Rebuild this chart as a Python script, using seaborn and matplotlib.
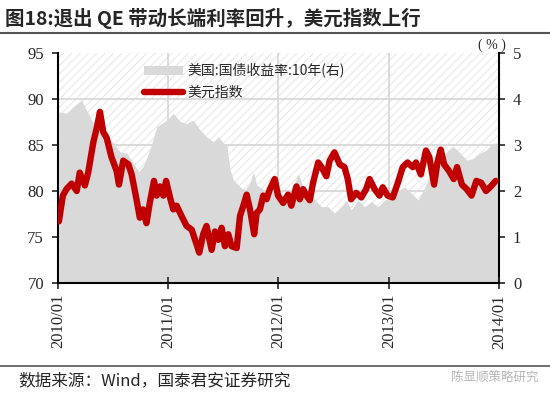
import pandas as pd
import numpy as np
import matplotlib
matplotlib.use('Agg')
import matplotlib.pyplot as plt
import matplotlib.dates as mdates
from matplotlib.patches import Patch, Rectangle
from matplotlib.lines import Line2D
import seaborn as sns

# 美元指数 (left axis)
dxy_dates = ['2010-01-04', '2010-01-17', '2010-01-29', '2010-02-15', '2010-03-04', '2010-03-14',
             '2010-03-31', '2010-04-11', '2010-04-28', '2010-05-09', '2010-05-20', '2010-05-31',
             '2010-06-11', '2010-06-27', '2010-07-14', '2010-07-22', '2010-08-05', '2010-08-22',
             '2010-09-02', '2010-09-18', '2010-09-29', '2010-10-10', '2010-10-21', '2010-11-01',
             '2010-11-15', '2010-11-24', '2010-12-05', '2010-12-16', '2010-12-25', '2011-01-07',
             '2011-01-18', '2011-01-29', '2011-02-14', '2011-03-03', '2011-03-20', '2011-03-31',
             '2011-04-14', '2011-04-27', '2011-05-08', '2011-05-25', '2011-06-05', '2011-06-16',
             '2011-06-27', '2011-07-08', '2011-07-19', '2011-07-30', '2011-08-16', '2011-08-27',
             '2011-09-07', '2011-09-18', '2011-09-29', '2011-10-13', '2011-10-21', '2011-11-01',
             '2011-11-12', '2011-11-23', '2011-12-04', '2011-12-20', '2011-12-31', '2012-01-17',
             '2012-02-02', '2012-02-13', '2012-03-01', '2012-03-12', '2012-03-23', '2012-04-03',
             '2012-04-14', '2012-04-25', '2012-05-12', '2012-05-23', '2012-06-08', '2012-06-19',
             '2012-07-05', '2012-07-22', '2012-08-07', '2012-08-18', '2012-08-29', '2012-09-15',
             '2012-10-02', '2012-10-18', '2012-10-29', '2012-11-15', '2012-12-01', '2012-12-12',
             '2012-12-28', '2013-01-14', '2013-01-31', '2013-02-16', '2013-03-04', '2013-03-21',
             '2013-04-01', '2013-04-17', '2013-05-04', '2013-05-15', '2013-05-31', '2013-06-11',
             '2013-06-22', '2013-07-03', '2013-07-19', '2013-08-04', '2013-08-15', '2013-08-31',
             '2013-09-16', '2013-10-02', '2013-10-18', '2013-11-03', '2013-11-19', '2013-12-05',
             '2013-12-21']
dxy = [76.7, 79.5, 80.2, 80.8, 80.0, 82.0,
       80.6, 82.0, 85.3, 86.8, 88.6, 86.4,
       85.8, 83.7, 82.2, 80.7, 83.3, 82.9,
       81.8, 79.1, 77.1, 78.0, 76.5, 78.7,
       81.1, 79.5, 80.5, 79.5, 81.1, 79.3,
       78.0, 78.4, 77.3, 76.2, 75.8, 74.7,
       73.3, 75.3, 76.2, 73.6, 75.6, 74.7,
       76.0, 74.0, 75.3, 74.0, 73.8, 77.3,
       78.4, 79.6, 78.0, 75.3, 77.6, 78.0,
       79.5, 79.1, 80.2, 81.3, 79.5, 78.7,
       79.6, 78.4, 80.5, 79.1, 80.2, 79.5,
       79.0, 80.9, 83.1, 82.6, 81.6, 83.3,
       84.2, 82.9, 82.6, 81.3, 79.1, 79.8,
       79.3, 80.2, 81.3, 80.2, 79.5, 80.4,
       79.5, 79.3, 80.9, 82.6, 83.1, 82.6,
       83.1, 81.8, 84.4, 83.7, 80.7, 83.1,
       84.5, 82.9, 82.2, 81.3, 82.6, 80.7,
       80.2, 79.5, 81.1, 80.9, 80.0, 80.5,
       81.1]

# 美国:国债收益率:10年 (right axis, %)
yld_dates = ['2010-01-04', '2010-01-29', '2010-02-20', '2010-03-20', '2010-04-05', '2010-04-28',
             '2010-05-20', '2010-06-11', '2010-07-03', '2010-07-26', '2010-08-17', '2010-09-08',
             '2010-09-25', '2010-10-10', '2010-11-01', '2010-11-24', '2010-12-11', '2010-12-27',
             '2011-01-18', '2011-02-10', '2011-03-03', '2011-03-25', '2011-04-16', '2011-05-08',
             '2011-05-31', '2011-06-16', '2011-07-03', '2011-07-14', '2011-07-25', '2011-08-05',
             '2011-08-27', '2011-09-12', '2011-09-29', '2011-10-10', '2011-10-21', '2011-11-07',
             '2011-11-23', '2011-12-10', '2011-12-20', '2012-01-12', '2012-02-02', '2012-02-25',
             '2012-03-07', '2012-03-23', '2012-04-10', '2012-05-02', '2012-05-23', '2012-06-14',
             '2012-07-05', '2012-07-27', '2012-08-13', '2012-08-29', '2012-09-21', '2012-10-13',
             '2012-11-04', '2012-11-26', '2012-12-18', '2013-01-10', '2013-01-31', '2013-02-23',
             '2013-03-17', '2013-04-08', '2013-04-25', '2013-05-12', '2013-06-03', '2013-06-26',
             '2013-07-18', '2013-08-04', '2013-08-26', '2013-09-16', '2013-10-08', '2013-10-30',
             '2013-11-20', '2013-12-12', '2013-12-31']
yld = [3.72, 3.69, 3.83, 3.98, 3.76, 3.48,
       3.40, 3.25, 3.04, 2.85, 2.82, 2.60,
       2.42, 2.53, 2.89, 3.40, 3.47, 3.54,
       3.69, 3.51, 3.47, 3.54, 3.33, 3.18,
       3.07, 3.18, 3.04, 3.00, 2.46, 2.24,
       2.09, 2.02, 2.17, 2.42, 2.13, 2.06,
       1.98, 2.02, 2.06, 1.88, 1.95, 2.17,
       2.38, 2.09, 2.02, 1.80, 1.66, 1.66,
       1.52, 1.66, 1.80, 1.59, 1.80, 1.66,
       1.77, 1.66, 1.80, 1.88, 1.98, 2.09,
       1.95, 1.80, 2.02, 2.24, 2.53, 2.75,
       2.89, 2.96, 2.82, 2.67, 2.71, 2.82,
       2.89, 3.04, 3.04]

tick_dates = ['2010-01-01', '2011-01-01', '2012-01-01', '2013-01-01', '2014-01-01']

title = '图18:退出 QE 带动长端利率回升，美元指数上行'
source = '数据来源：Wind，国泰君安证券研究'
label_yld = '美国:国债收益率:10年(右)'
label_dxy = '美元指数'

sns.set_theme(style='white')
plt.rcParams['font.family'] = 'serif'
plt.rcParams['font.serif'] = ['Liberation Serif', 'DejaVu Serif']
plt.rcParams['hatch.linewidth'] = 0.6
plt.rcParams['hatch.color'] = '#e2e2e2'
cjk = ['Noto Sans CJK SC', 'DejaVu Sans']

red = '#c00000'
grey = '#d9d9d9'

df_dxy = pd.DataFrame({'date': pd.to_datetime(dxy_dates), 'dxy': dxy})
df_yld = pd.DataFrame({'date': pd.to_datetime(yld_dates), 'yld': yld})
ticks = pd.to_datetime(tick_dates)

fig = plt.figure(figsize=(5.5, 3.94), dpi=100)
ax = fig.add_axes([58 / 550, 1 - 283 / 394, 441 / 550, 230 / 394])
ax2 = ax.twinx()

# hatched background + grid + yield area on the right axis (drawn underneath)
ax2.add_patch(Rectangle((0, 0), 1, 1, transform=ax2.transAxes, facecolor='white',
                        hatch='////', edgecolor='#e2e2e2', linewidth=0, zorder=0))
for t in ticks[1:-1]:
    ax2.axvline(t, color='#d6d6d6', lw=1.2, zorder=1)
for v in [1, 2, 3, 4]:
    ax2.axhline(v, color='#d6d6d6', lw=1.2, zorder=1)
ax2.fill_between(df_yld['date'], 0, df_yld['yld'], color=grey, lw=0, zorder=2)
ax2.set_ylim(0, 5)

ax.set_zorder(ax2.get_zorder() + 1)
ax.patch.set_visible(False)
sns.lineplot(data=df_dxy, x='date', y='dxy', ax=ax, color=red, lw=4.6, zorder=3)
ax.set_ylim(70, 95)
ax.set_xlim(ticks[0], ticks[-1])
ax.set_xlabel('')
ax.set_ylabel('')
ax.set_xticks(ticks)
ax.xaxis.set_major_formatter(mdates.DateFormatter('%Y/%m'))
ax.set_yticks([70, 75, 80, 85, 90, 95])
ax2.set_yticks([0, 1, 2, 3, 4, 5])

for a in (ax, ax2):
    for s in a.spines.values():
        s.set_visible(False)
ax.spines['left'].set_visible(True)
ax.spines['bottom'].set_visible(True)
ax2.spines['right'].set_visible(True)
for s in [ax.spines['left'], ax.spines['bottom'], ax2.spines['right']]:
    s.set_color('black')
    s.set_linewidth(1.5)

ax.tick_params(axis='y', direction='out', length=4, width=1.2, labelsize=12, pad=6, left=True)
ax.tick_params(axis='x', direction='inout', length=8, width=1.2, labelsize=12, rotation=90,
               bottom=True, pad=4)
ax2.tick_params(axis='y', direction='out', length=4, width=1.2, labelsize=12, pad=6, right=True)
for lab in ax.get_xticklabels() + ax.get_yticklabels() + ax2.get_yticklabels():
    lab.set_fontfamily('Liberation Serif')

handles = [Patch(facecolor=grey, edgecolor='none'), Line2D([], [], color=red, lw=4.6)]
ax.legend(handles, [label_yld, label_dxy], loc='upper left', bbox_to_anchor=(0.195, 0.955),
          frameon=False, prop={'family': cjk, 'size': 10}, handlelength=2.8,
          handletextpad=0.3, labelspacing=0.55, borderpad=0, borderaxespad=0)

fig.text(492 / 550, 1 - 45 / 394, '( % )', ha='center', va='center', fontsize=10,
         family='Liberation Serif')
fig.text(5 / 550, 1 - 18 / 394, title, ha='left', va='center', fontsize=14,
         fontweight='bold', family=cjk)
fig.add_artist(Line2D([0, 1], [1 - 33 / 394, 1 - 33 / 394], color='#555555', lw=1.5,
                      transform=fig.transFigure))
fig.add_artist(Line2D([0, 1], [1 - 366 / 394, 1 - 366 / 394], color='#555555', lw=1.2,
                      transform=fig.transFigure))
fig.text(18 / 550, 1 - 381 / 394, source, ha='left', va='center', fontsize=12, family=cjk)
fig.text(538 / 550, 1 - 378 / 394, '陈显顺策略研究', ha='right', va='center', fontsize=9,
         color='#b5b5b5', family=cjk)

fig.savefig('out.png', dpi=100)
